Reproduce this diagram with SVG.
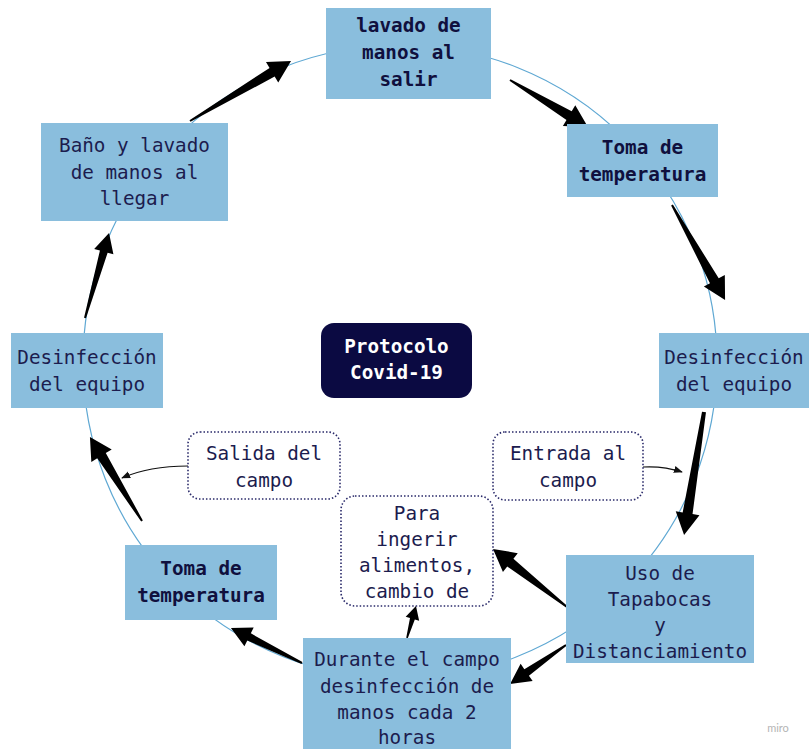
<svg xmlns="http://www.w3.org/2000/svg" width="809" height="749" viewBox="0 0 809 749">
  <style>
    .box { fill: #8abedd; }
    .note { fill: #ffffff; stroke: #2a2a6a; stroke-width: 1.6; stroke-dasharray: 1.5 2; }
    .t { font-family: "DejaVu Sans Mono", "Liberation Mono", monospace; font-size: 19.3px; fill: #1c1c4e; text-anchor: middle; }
    .b { font-weight: bold; fill: #10103e; }
    .w { fill: #ffffff; font-weight: bold; }
    .ring { fill: none; stroke: #5fa8d3; stroke-width: 1.2; }
    .fat { fill: #000000; }
    .thin { fill: none; stroke: #111111; stroke-width: 1.2; marker-end: url(#tip); }
  </style>
  <defs>
    <marker id="tip" viewBox="0 0 10 10" refX="9" refY="5" markerWidth="9" markerHeight="9" markerUnits="userSpaceOnUse" orient="auto">
      <path d="M0,1 L10,5 L0,9 Z" fill="#111111"/>
    </marker>
  </defs>

  <rect width="809" height="749" fill="#ffffff"/>

  <!-- guide circle -->
  <circle class="ring" cx="400" cy="362" r="317"/>

  <!-- connectors: tapered block arrows, drawn along +x then rotated -->
  <g id="connectors">
    <g transform="translate(190,121) rotate(-30.7)"><polygon class="fat" points="0,-1 95.5,-5 95.5,-12 117.5,0 95.5,12 95.5,5 0,1"/></g>
    <g transform="translate(510,80) rotate(31.1)"><polygon class="fat" points="0,-1 69,-5 69,-12 91,0 69,12 69,5 0,1"/></g>
    <g transform="translate(672,205) rotate(60.8)"><polygon class="fat" points="0,-1 86.8,-5 86.8,-12 108.8,0 86.8,12 86.8,5 0,1"/></g>
    <g transform="translate(704,412) rotate(99.2)"><polygon class="fat" points="0,-2 102.6,-5 102.6,-12 124.6,0 102.6,12 102.6,5 0,2"/></g>
    <g transform="translate(567,607) rotate(-141.9)"><polygon class="fat" points="0,-1 72,-5 72,-12 94,0 72,12 72,5 0,1"/></g>
    <g transform="translate(566,645) rotate(145.1)"><polygon class="fat" points="0,-1 48,-4 48,-10.5 68.2,0 48,10.5 48,4 0,1"/></g>
    <g transform="translate(407,638) rotate(-74.3)"><polygon class="fat" points="0,-0.8 20,-2.5 20,-7 33.2,0 20,7 20,2.5 0,0.8"/></g>
    <g transform="translate(302,663) rotate(-153.8)"><polygon class="fat" points="0,-1 59,-4 59,-10.5 79.2,0 59,10.5 59,4 0,1"/></g>
    <g transform="translate(142,521) rotate(-121.8)"><polygon class="fat" points="0,-1 76.8,-5 76.8,-12 98.8,0 76.8,12 76.8,5 0,1"/></g>
    <g transform="translate(85,318) rotate(-74.2)"><polygon class="fat" points="0,-1 69,-4 69,-10 88.3,0 69,10 69,4 0,1"/></g>
    <path class="thin" d="M188,466 C160,466 140,470 122,478"/>
    <path class="thin" d="M643,467 C660,466 670,468 682,472"/>
  </g>

  <g id="salir">
    <rect class="box" x="326" y="8" width="165" height="91"/>
    <text class="t b" x="408.5" y="32">lavado de</text>
    <text class="t b" x="408.5" y="59">manos al</text>
    <text class="t b" x="408.5" y="86">salir</text>
  </g>

  <g id="temp-entrada">
    <rect class="box" x="567" y="124" width="151" height="73"/>
    <text class="t b" x="642.5" y="154">Toma de</text>
    <text class="t b" x="642.5" y="181">temperatura</text>
  </g>

  <g id="desinf-entrada">
    <rect class="box" x="659" y="333" width="150" height="75"/>
    <text class="t" x="734" y="364">Desinfección</text>
    <text class="t" x="734" y="391">del equipo</text>
  </g>

  <g id="tapabocas">
    <rect class="box" x="566" y="555" width="188" height="108"/>
    <text class="t" x="660" y="580">Uso de</text>
    <text class="t" x="660" y="606">Tapabocas</text>
    <text class="t" x="660" y="632">y</text>
    <text class="t" x="660" y="658">Distanciamiento</text>
  </g>

  <g id="durante">
    <rect class="box" x="303" y="638" width="208" height="111"/>
    <text class="t" x="407" y="666">Durante el campo</text>
    <text class="t" x="407" y="693">desinfección de</text>
    <text class="t" x="407" y="719">manos cada 2</text>
    <text class="t" x="407" y="744">horas</text>
  </g>

  <g id="temp-salida">
    <rect class="box" x="125" y="545" width="152" height="75"/>
    <text class="t b" x="201" y="575">Toma de</text>
    <text class="t b" x="201" y="602">temperatura</text>
  </g>

  <g id="desinf-salida">
    <rect class="box" x="11" y="333" width="152" height="75"/>
    <text class="t" x="87" y="364">Desinfección</text>
    <text class="t" x="87" y="391">del equipo</text>
  </g>

  <g id="llegada">
    <rect class="box" x="41" y="123" width="187" height="98"/>
    <text class="t" x="134.5" y="152">Baño y lavado</text>
    <text class="t" x="134.5" y="179">de manos al</text>
    <text class="t" x="134.5" y="205">llegar</text>
  </g>

  <g id="protocolo">
    <rect x="321" y="323" width="151" height="75" rx="13" fill="#0b0a42"/>
    <text class="t w" x="396.5" y="353">Protocolo</text>
    <text class="t w" x="396.5" y="379">Covid-19</text>
  </g>

  <g id="salida-campo">
    <rect class="note" x="188" y="432" width="152" height="67" rx="12"/>
    <text class="t" x="264" y="460">Salida del</text>
    <text class="t" x="264" y="487">campo</text>
  </g>

  <g id="entrada-campo">
    <rect class="note" x="493" y="432" width="150" height="68" rx="12"/>
    <text class="t" x="568" y="460">Entrada al</text>
    <text class="t" x="568" y="487">campo</text>
  </g>

  <g id="alimentos">
    <rect class="note" x="341" y="496" width="152" height="110" rx="14"/>
    <text class="t" x="417" y="520">Para</text>
    <text class="t" x="417" y="546">ingerir</text>
    <text class="t" x="417" y="572">alimentos,</text>
    <text class="t" x="417" y="598">cambio de</text>
  </g>

  <text x="778" y="732" font-family="Lato, 'Liberation Sans', sans-serif" font-size="11" fill="#b5b5b5" text-anchor="middle">miro</text>
</svg>
